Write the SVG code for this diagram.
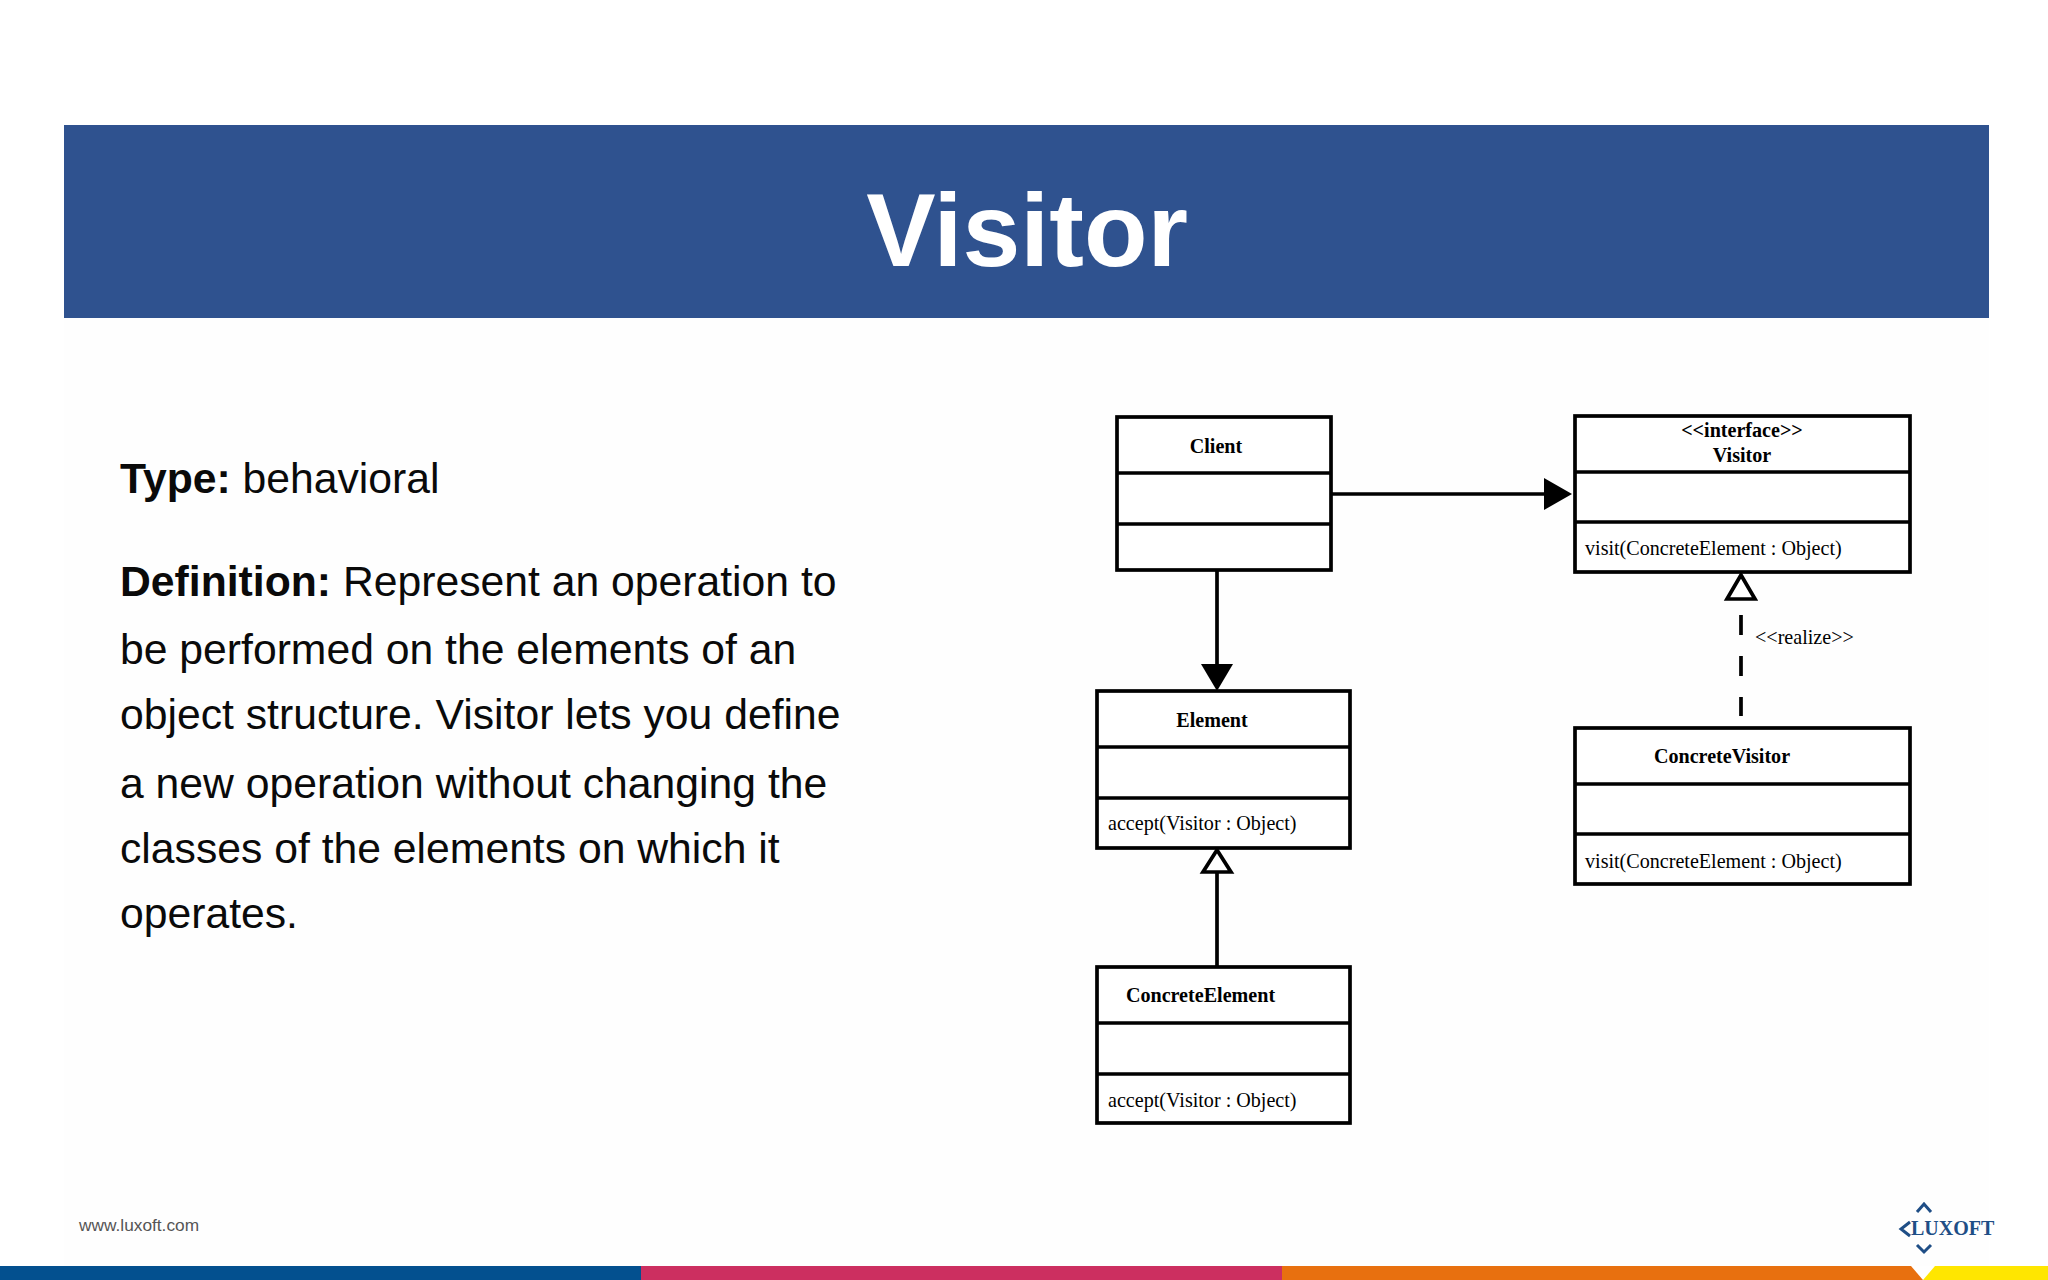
<svg xmlns="http://www.w3.org/2000/svg" width="2048" height="1280" viewBox="0 0 2048 1280">
<style>
.box{fill:#fff;stroke:#000;stroke-width:3.7}
.div{stroke:#000;stroke-width:3.7;fill:none}
.uml{font-family:"Liberation Serif",serif;font-size:20.1px;fill:#000}
.b{font-weight:bold}
.m{text-anchor:middle}
.body{font-family:"Liberation Sans",Arial,sans-serif;font-size:42.7px;fill:#0a0a0a}
.con{stroke:#000;stroke-width:3.7;fill:none}
.chev{stroke:#1f4e86;stroke-width:3;fill:none}
</style>
<rect width="2048" height="1280" fill="#fff"/>
<rect x="64" y="318" width="1925" height="948" fill="#fefefe"/>
<g id="header"><rect x="64" y="125" width="1925" height="193" fill="#2f528f"/>
<text x="1027" y="266" text-anchor="middle" font-family="'Liberation Sans',Arial,sans-serif" font-weight="bold" font-size="104" fill="#fff">Visitor</text></g>
<g id="body-text">
<text class="body" x="120" y="493"><tspan font-weight="bold">Type:</tspan> behavioral</text>
<text class="body" x="120" y="596"><tspan font-weight="bold">Definition:</tspan> Represent an operation to</text>
<text class="body" x="120" y="664">be performed on the elements of an</text>
<text class="body" x="120" y="729">object structure. Visitor lets you define</text>
<text class="body" x="120" y="798">a new operation without changing the</text>
<text class="body" x="120" y="863">classes of the elements on which it</text>
<text class="body" x="120" y="928">operates.</text>
</g>
<g id="connectors">
<line class="con" x1="1332" y1="494" x2="1548" y2="494"/>
<polygon points="1544,478 1572,494 1544,510" fill="#000"/>
<line class="con" x1="1217" y1="571" x2="1217" y2="667"/>
<polygon points="1201,664 1233,664 1217,691" fill="#000"/>
<line class="con" x1="1741" y1="615" x2="1741" y2="716" stroke-dasharray="20 21" stroke-width="3.2"/>
<polygon points="1741,575 1755,599 1727,599" fill="#fff" stroke="#000" stroke-width="3.7"/>
<line class="con" x1="1217" y1="872" x2="1217" y2="967"/>
<polygon points="1217,850 1231,872 1203,872" fill="#fff" stroke="#000" stroke-width="3.7"/>
</g>
<g id="client"><rect class="box" x="1117" y="417" width="214" height="153"/>
<path class="div" d="M1117 473H1331M1117 524H1331"/>
<text class="uml b m" x="1216" y="453">Client</text></g>
<g id="visitor"><rect class="box" x="1575" y="416" width="335" height="156"/>
<path class="div" d="M1575 472H1910M1575 522H1910"/>
<text class="uml b m" x="1742" y="437">&lt;&lt;interface&gt;&gt;</text>
<text class="uml b m" x="1742" y="462">Visitor</text>
<text class="uml" x="1585" y="555">visit(ConcreteElement : Object)</text></g>
<g id="element"><rect class="box" x="1097" y="691" width="253" height="157"/>
<path class="div" d="M1097 747H1350M1097 798H1350"/>
<text class="uml b m" x="1212" y="727">Element</text>
<text class="uml" x="1108" y="830">accept(Visitor : Object)</text></g>
<g id="concrete-visitor"><rect class="box" x="1575" y="728" width="335" height="156"/>
<path class="div" d="M1575 784H1910M1575 834H1910"/>
<text class="uml b m" x="1722" y="763">ConcreteVisitor</text>
<text class="uml" x="1585" y="868">visit(ConcreteElement : Object)</text></g>
<g id="concrete-element"><rect class="box" x="1097" y="967" width="253" height="156"/>
<path class="div" d="M1097 1023H1350M1097 1074H1350"/>
<text class="uml b m" x="1200.500" y="1002">ConcreteElement</text>
<text class="uml" x="1108" y="1107">accept(Visitor : Object)</text></g>
<text class="uml" x="1755" y="644">&lt;&lt;realize&gt;&gt;</text>
<g id="footer">
<rect x="0" y="1266" width="641" height="14" fill="#03508f"/>
<rect x="641" y="1266" width="641" height="14" fill="#cc2f60"/>
<rect x="1282" y="1266" width="641" height="14" fill="#e8700f"/>
<rect x="1923" y="1266" width="125" height="14" fill="#ffe600"/>
<polygon points="1911,1266 1935,1266 1923,1280" fill="#fff"/>
<text x="79" y="1231" font-family="'Liberation Sans',Arial,sans-serif" font-size="17.300" fill="#555">www.luxoft.com</text>
<path class="chev" d="M1917 1212L1924 1204L1931 1212M1917 1245L1924 1252L1931 1245M1910 1222L1901 1229L1910 1236"/>
<text x="1911" y="1235" font-family="'Liberation Serif',serif" font-weight="bold" font-size="20" fill="#1f4e86">LUXOFT</text>
</g>
</svg>
